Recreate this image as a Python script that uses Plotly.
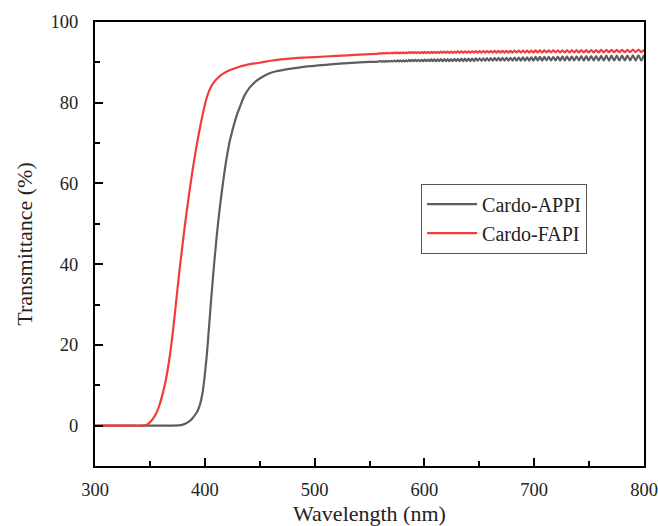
import plotly.graph_objects as go

# ---- data ----
# smooth edge region
wl_appi_edge = [300, 340, 370, 376, 380, 383, 386, 389, 392, 394, 396, 398, 400, 402, 404,
                406, 408, 410, 412, 414, 416, 418, 420, 423, 426, 429, 432, 436, 441, 447,
                453, 459, 465, 477, 490, 510, 530, 545, 558]
t_appi_edge = [0, 0, 0, 0.05, 0.25, 0.6, 1.1, 1.9, 3.0, 4.0, 5.6, 8.2, 12.5, 18.0, 25.0,
               32.0, 38.5, 44.5, 50.0, 54.7, 59.0, 63.0, 66.5, 70.8, 74.0, 76.8, 79.0, 81.7, 83.8, 85.4,
               86.5, 87.3, 87.8, 88.4, 88.9, 89.4, 89.8, 90.05, 90.2]

wl_fapi_edge = [300, 330, 343, 347, 350, 353, 356, 359, 362, 365, 368, 371, 374, 377, 380,
                383, 386, 389, 392, 395, 398, 401, 404, 408, 412, 416, 423, 430, 440, 450,
                460, 480, 500, 520, 540, 558]
t_fapi_edge = [0, 0, 0, 0.2, 0.8, 1.8, 3.2, 5.3, 8.3, 12.0, 17.0, 23.5, 31.0, 38.5, 45.5,
               52.0, 58.0, 63.5, 68.5, 73.0, 77.0, 80.5, 83.0, 85.0, 86.2, 87.1, 88.1, 88.8, 89.5, 89.9,
               90.4, 91.0, 91.3, 91.6, 91.9, 92.15]

# interference-fringe region (peaks / troughs)
wl_fringe = [
    559.9, 561.2, 562.4, 563.7, 565.0, 566.3, 567.5, 568.8, 570.1, 571.4,
    572.7, 574.1, 575.4, 576.7, 578.0, 579.4, 580.7, 582.1, 583.4, 584.8,
    586.2, 587.5, 588.9, 590.3, 591.7, 593.1, 594.5, 596.0, 597.4, 598.8,
    600.2, 601.7, 603.1, 604.6, 606.1, 607.5, 609.0, 610.5, 612.0, 613.5,
    615.0, 616.5, 618.1, 619.6, 621.1, 622.7, 624.2, 625.8, 627.4, 628.9,
    630.5, 632.1, 633.7, 635.3, 636.9, 638.6, 640.2, 641.9, 643.5, 645.2,
    646.8, 648.5, 650.2, 651.9, 653.6, 655.3, 657.0, 658.8, 660.5, 662.3,
    664.0, 665.8, 667.6, 669.3, 671.1, 673.0, 674.8, 676.6, 678.4, 680.3,
    682.1, 684.0, 685.9, 687.8, 689.7, 691.6, 693.5, 695.4, 697.4, 699.3,
    701.3, 703.2, 705.2, 707.2, 709.2, 711.2, 713.3, 715.3, 717.4, 719.4,
    721.5, 723.6, 725.7, 727.8, 729.9, 732.1, 734.2, 736.4, 738.6, 740.7,
    742.9, 745.2, 747.4, 749.6, 751.9, 754.2, 756.4, 758.7, 761.0, 763.4,
    765.7, 768.1, 770.4, 772.8, 775.2, 777.6, 780.0, 782.5, 784.9, 787.4,
    789.9, 792.4, 794.9, 797.5, 800.0]

t_appi_fringe = [
    90.32, 90.14, 90.34, 90.16, 90.36, 90.18, 90.38, 90.2, 90.4, 90.21,
    90.46, 90.2, 90.47, 90.21, 90.48, 90.22, 90.5, 90.22, 90.52, 90.23,
    90.6, 90.26, 90.61, 90.27, 90.62, 90.28, 90.63, 90.29, 90.65, 90.3,
    90.7, 90.3, 90.71, 90.31, 90.72, 90.31, 90.73, 90.32, 90.74, 90.32,
    90.8, 90.3, 90.81, 90.31, 90.82, 90.31, 90.83, 90.32, 90.84, 90.33,
    90.9, 90.3, 90.91, 90.31, 90.92, 90.32, 90.93, 90.32, 90.94, 90.33,
    91.0, 90.38, 91.01, 90.39, 91.02, 90.39, 91.03, 90.4, 91.04, 90.4,
    91.1, 90.4, 91.11, 90.41, 91.12, 90.41, 91.13, 90.42, 91.14, 90.42,
    91.2, 90.4, 91.21, 90.41, 91.22, 90.42, 91.23, 90.42, 91.24, 90.43,
    91.35, 90.45, 91.36, 90.45, 91.37, 90.46, 91.38, 90.46, 91.39, 90.47,
    91.45, 90.45, 91.46, 90.46, 91.47, 90.46, 91.48, 90.47, 91.49, 90.47,
    91.55, 90.45, 91.56, 90.46, 91.57, 90.46, 91.58, 90.47, 91.59, 90.47,
    91.65, 90.45, 91.66, 90.46, 91.67, 90.46, 91.68, 90.47, 91.69, 90.47,
    91.75, 90.45, 91.76, 90.46, 91.77]

t_fapi_fringe = [
    92.28, 92.18, 92.3, 92.2, 92.33, 92.21, 92.35, 92.22, 92.38, 92.24,
    92.45, 92.25, 92.45, 92.25, 92.46, 92.26, 92.46, 92.26, 92.47, 92.27,
    92.52, 92.28, 92.52, 92.28, 92.53, 92.29, 92.53, 92.29, 92.54, 92.3,
    92.59, 92.31, 92.59, 92.31, 92.6, 92.32, 92.6, 92.32, 92.61, 92.33,
    92.66, 92.34, 92.66, 92.34, 92.67, 92.35, 92.67, 92.35, 92.68, 92.36,
    92.73, 92.37, 92.73, 92.37, 92.74, 92.38, 92.74, 92.38, 92.75, 92.39,
    92.8, 92.4, 92.8, 92.4, 92.81, 92.41, 92.81, 92.41, 92.82, 92.42,
    92.84, 92.4, 92.84, 92.4, 92.85, 92.41, 92.85, 92.41, 92.86, 92.42,
    92.89, 92.41, 92.89, 92.41, 92.9, 92.42, 92.9, 92.42, 92.91, 92.43,
    92.96, 92.44, 92.96, 92.44, 92.97, 92.45, 92.97, 92.45, 92.98, 92.46,
    93.0, 92.44, 93.0, 92.44, 93.01, 92.45, 93.01, 92.45, 93.02, 92.46,
    93.05, 92.45, 93.05, 92.45, 93.06, 92.46, 93.06, 92.46, 93.07, 92.47,
    93.1, 92.5, 93.1, 92.5, 93.11, 92.51, 93.11, 92.51, 93.12, 92.52,
    93.15, 92.55, 93.15, 92.55, 93.16]

x_ticks = [300, 400, 500, 600, 700, 800]
y_ticks = [0, 20, 40, 60, 80, 100]
series_names = ["Cardo-APPI", "Cardo-FAPI"]

FONT = "Liberation Serif, Times New Roman, serif"

fig = go.Figure()
fig.add_trace(go.Scatter(
    x=wl_appi_edge + wl_fringe, y=t_appi_edge + t_appi_fringe,
    mode="lines", name=series_names[0],
    line=dict(color="#5e5e5e", width=2.2, shape="spline", smoothing=0.7)))
fig.add_trace(go.Scatter(
    x=wl_fapi_edge + wl_fringe, y=t_fapi_edge + t_fapi_fringe,
    mode="lines", name=series_names[1],
    line=dict(color="#f23c3c", width=2.2, shape="spline", smoothing=0.7)))

axis_common = dict(
    showgrid=False, zeroline=False, automargin=False,
    showline=True, linecolor="black", linewidth=2, mirror=True,
    ticks="inside", ticklen=8, tickwidth=2, tickcolor="black",
    ticklabeloverflow="allow",
)

fig.update_layout(
    width=658, height=526,
    margin=dict(l=95, r=14, t=22, b=60),
    paper_bgcolor="white", plot_bgcolor="white",
    font=dict(family=FONT, color="#222"),
    xaxis=dict(range=[300, 800], tickvals=x_ticks, ticklabelstandoff=6,
               tickfont=dict(family=FONT, size=18.5, color="#222"),
               minor=dict(ticks="inside", ticklen=5, tickwidth=2, tickcolor="black", dtick=50, tick0=300),
               title=dict(text="Wavelength (nm)", font=dict(family=FONT, size=22), standoff=8),
               **axis_common),
    yaxis=dict(range=[-10, 100], tickvals=y_ticks, ticklabelstandoff=11,
               tickfont=dict(family=FONT, size=18.5, color="#222"),
               minor=dict(ticks="inside", ticklen=5, tickwidth=2, tickcolor="black", dtick=10, tick0=0),
               title=dict(text="Transmittance (%)", font=dict(family=FONT, size=22), standoff=12),
               **axis_common),
    legend=dict(x=0.594, y=0.636, xanchor="left", yanchor="top",
                bgcolor="white", bordercolor="#555", borderwidth=1,
                font=dict(family=FONT, size=20, color="#222"),
                itemwidth=50, tracegroupgap=0),
    showlegend=True,
)

fig.write_html(
    "out.html",
    config={"displayModeBar": False},
    post_script="document.body.style.margin='0';document.body.style.overflow='hidden';",
)
